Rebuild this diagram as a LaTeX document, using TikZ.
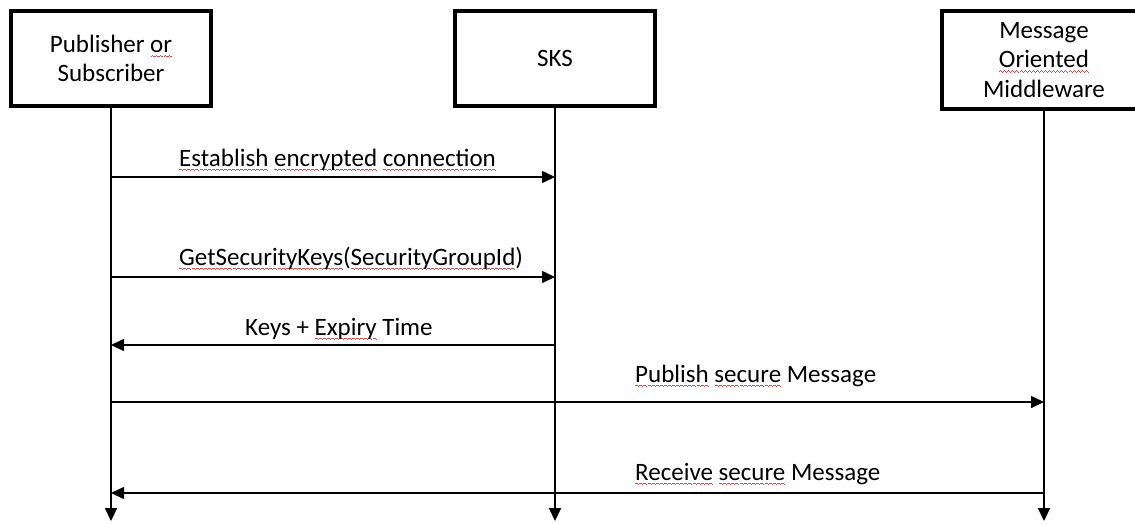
\documentclass[tikz,border=0pt]{standalone}
\usepackage{fontspec}
\setmainfont{Carlito}
\usetikzlibrary{arrows.meta}
\definecolor{spell}{RGB}{228,70,70}
\newsavebox\wordbox
% one period of the wavy proofing mark, built from short rules
\newcommand\waveunit{\hbox{%
  \rule[0pt]{1pt}{0.7pt}\rule[0.8pt]{1pt}{0.7pt}%
  \rule[0pt]{1pt}{0.7pt}\rule[-0.8pt]{1pt}{0.7pt}}}
% wavy red proofing mark under a word
\newcommand\spellmark[1]{%
  \sbox\wordbox{#1}%
  \rlap{\lower4pt\hbox to \wd\wordbox{\color{spell}\xleaders\waveunit\hfill}}%
  \usebox\wordbox}
\begin{document}
\begin{tikzpicture}[x=1pt,y=-1pt,
  actor/.style={draw, line width=3.5pt, minimum width=200pt, minimum height=95pt,
    inner sep=0pt, align=center, font=\fontsize{25}{29.5}\selectfont},
  life/.style={line width=2pt, -{Triangle[length=13pt,width=12pt]}},
  msg/.style={line width=1.6pt, -{Triangle[length=13pt,width=12pt]}},
  msglabel/.style={anchor=base west, inner sep=0pt, font=\fontsize{25}{29.5}\selectfont}]
\useasboundingbox (0,0) rectangle (1135,523);

% participants
\node[actor] (pub) at (111,58.5) {Publisher \spellmark{or}\\Subscriber};
\node[actor] (sks) at (555,58.5) {SKS};
% the third box runs past the right edge of the page
\node[actor, minimum height=98pt, minimum width=204pt] (mom) at (1044,60) {Message\\\spellmark{Oriented}\\Middleware};

% lifeline ends
\coordinate (pubEnd) at (111,521);
\coordinate (sksEnd) at (555,521);
\coordinate (momEnd) at (1044,521);
\draw[life] (pub.south) -- (pubEnd);
\draw[life] (sks.south) -- (sksEnd);
\draw[life] (mom.south) -- (momEnd);

% message levels
\coordinate (m1) at (0,177);
\coordinate (m2) at (0,277);
\coordinate (m3) at (0,345);
\coordinate (m4) at (0,402);
\coordinate (m5) at (0,493);

\draw[msg] (pub |- m1) -- (sks |- m1);
\draw[msg] (pub |- m2) -- (sks |- m2);
\draw[msg] (sks |- m3) -- (pub |- m3);
\draw[msg] (pub |- m4) -- (mom |- m4);
\draw[msg] (mom |- m5) -- (pub |- m5);

\node[msglabel] (t1) at (179,166) {\spellmark{Establish} \spellmark{encrypted} \spellmark{connection}};
\node[msglabel] (t2) at (179,265) {\spellmark{GetSecurityKeys}(\spellmark{SecurityGroupId})};
\node[msglabel] (t3) at (245,335) {Keys + \spellmark{Expiry} Time};
\node[msglabel] (t4) at (635,382) {\spellmark{Publish} \spellmark{secure} Message};
\node[msglabel] (t5) at (635,480) {\spellmark{Receive} \spellmark{secure} Message};
\end{tikzpicture}
\end{document}
